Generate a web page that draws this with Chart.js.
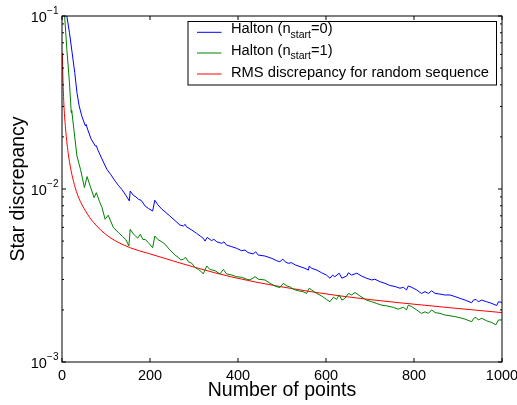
<!DOCTYPE html>
<html>
<head>
<meta charset="utf-8">
<script src="https://cdn.jsdelivr.net/npm/chart.js@4.4.0/dist/chart.umd.min.js"></script>
<style>
  html, body { margin: 0; background: #fff; }
  canvas { display: block; }
</style>
</head>
<body>
<canvas id="chart" width="517" height="405"></canvas>
<script>
const FONT = "'Liberation Sans', Arial, Helvetica, sans-serif";

// [number of points, star discrepancy]
const halton0 = [[1,0.6],[6,0.15],[11,0.1],[17,0.08],[23,0.0614],[29,0.047],[34,0.0361],[39,0.0302],[45,0.0264],[53,0.0232],[55,0.0236],[58,0.0222],[66,0.0195],[76,0.0177],[78,0.0178],[82,0.0167],[92,0.0147],[102,0.013],[111,0.0121],[121,0.0111],[128,0.0105],[136,0.00995],[145,0.0092],[153,0.00853],[155,0.00973],[162,0.0092],[168,0.009],[174,0.00871],[180,0.0086],[189,0.00797],[197,0.0077],[206,0.00746],[211,0.00861],[218,0.0081],[227,0.00764],[234,0.00739],[245,0.00698],[257,0.00656],[268,0.00619],[276,0.00611],[280,0.00625],[283,0.00605],[295,0.00579],[306,0.00554],[314,0.00535],[321,0.00519],[325,0.005],[330,0.00525],[340,0.00503],[345,0.00512],[352,0.00495],[363,0.00485],[368,0.00495],[374,0.00474],[386,0.00464],[397,0.00454],[408,0.0044],[416,0.00444],[423,0.00429],[435,0.00421],[440,0.00434],[446,0.00415],[461,0.0041],[477,0.00397],[488,0.00385],[495,0.0038],[502,0.00393],[507,0.0038],[514,0.00372],[522,0.00375],[530,0.00364],[541,0.00356],[552,0.00348],[560,0.0034],[562,0.00359],[567,0.00348],[579,0.0034],[590,0.00328],[601,0.00318],[609,0.00305],[615,0.00318],[620,0.00311],[630,0.00326],[636,0.00305],[647,0.00314],[651,0.00328],[658,0.00318],[670,0.00326],[681,0.00314],[692,0.00305],[704,0.00298],[711,0.00301],[723,0.00291],[734,0.00285],[745,0.00277],[757,0.00273],[768,0.00267],[776,0.0027],[783,0.00261],[787,0.00275],[795,0.0027],[806,0.00261],[817,0.00249],[825,0.00255],[833,0.00249],[840,0.00258],[848,0.00249],[859,0.00247],[870,0.00244],[882,0.00244],[893,0.00239],[905,0.00233],[916,0.00228],[931,0.0022],[935,0.00228],[941,0.0023],[946,0.00223],[954,0.00228],[965,0.00223],[977,0.00218],[988,0.00212],[992,0.00223],[1000,0.00221]];

const halton1 = [[1,0.4],[3,0.17],[6,0.1],[11,0.0642],[17,0.0411],[21,0.0276],[22,0.0285],[27,0.0221],[34,0.0155],[42,0.013],[51,0.0102],[57,0.0118],[64,0.0104],[73,0.00891],[78,0.00952],[85,0.0085],[91,0.0078],[98,0.00668],[105,0.00705],[117,0.00597],[129,0.00558],[138,0.0053],[145,0.0051],[152,0.00469],[155,0.00585],[162,0.0055],[167,0.00535],[172,0.0052],[178,0.00547],[184,0.0051],[189,0.00512],[196,0.0049],[206,0.00458],[211,0.00535],[218,0.0051],[227,0.00495],[234,0.0048],[245,0.00445],[257,0.00415],[264,0.00403],[270,0.00389],[276,0.00393],[281,0.00403],[287,0.0038],[295,0.00372],[302,0.00352],[310,0.00343],[317,0.00332],[321,0.00323],[329,0.00359],[336,0.00343],[348,0.00337],[359,0.00323],[367,0.00343],[374,0.00323],[386,0.00318],[397,0.00311],[408,0.00309],[420,0.00301],[427,0.00298],[439,0.00311],[446,0.00301],[461,0.00298],[473,0.00285],[484,0.00275],[495,0.00269],[503,0.00285],[511,0.00275],[518,0.00272],[526,0.00263],[537,0.00258],[548,0.00255],[556,0.00249],[562,0.00267],[567,0.00261],[579,0.00249],[590,0.00241],[601,0.0023],[609,0.00223],[617,0.00237],[624,0.0023],[630,0.00244],[636,0.00228],[643,0.00233],[651,0.00249],[658,0.00244],[666,0.00252],[677,0.00241],[692,0.00228],[704,0.00223],[715,0.00218],[727,0.00213],[738,0.00211],[753,0.00207],[764,0.00202],[768,0.00204],[776,0.00207],[783,0.002],[787,0.00213],[795,0.00209],[806,0.002],[817,0.00191],[825,0.00195],[833,0.00191],[840,0.002],[848,0.00193],[859,0.00191],[870,0.00187],[882,0.00185],[893,0.00183],[905,0.0018],[916,0.00177],[931,0.00171],[936,0.00179],[941,0.00181],[946,0.00175],[954,0.00179],[965,0.00173],[977,0.00169],[986,0.00164],[992,0.00175],[1000,0.00175]];

const rmsRandom = [[1,0.061],[2,0.045],[4,0.032],[8,0.0225],[15,0.0155],[30,0.0102],[53,0.0075],[91,0.0057],[136,0.0048],[216,0.0041],[310,0.00348],[386,0.0031],[495,0.00273],[632,0.00241],[767,0.0022],[1000,0.00193]];

// legend names split as [text, subscript, text]
const seriesNames = [
  ['Halton (n', 'start', '=0)'],
  ['Halton (n', 'start', '=1)'],
  ['RMS discrepancy for random sequence', '', '']
];
const seriesColors = ['#0000ff', '#008000', '#ff0000'];

const xTicks = [0, 200, 400, 600, 800, 1000];
const yDecades = [-3, -2, -1];

const toXY = arr => arr.map(p => ({ x: p[0], y: p[1] }));
const isDecade = v => Math.abs(Math.log10(v) - Math.round(Math.log10(v))) < 1e-9;

// inner tick marks, frame, superscript y labels and legend
const matplotlibLook = {
  id: 'matplotlibLook',
  beforeDraw(chart) {
    const ctx = chart.ctx;
    ctx.save();
    ctx.fillStyle = '#fff';
    ctx.fillRect(0, 0, chart.width, chart.height);
    ctx.restore();
  },
  afterDraw(chart) {
    const { ctx, chartArea: a, scales: { x, y } } = chart;
    ctx.save();
    ctx.strokeStyle = '#000';
    ctx.lineWidth = 1;
    ctx.beginPath();
    x.ticks.forEach(t => {
      const px = x.getPixelForValue(t.value);
      ctx.moveTo(px, a.bottom); ctx.lineTo(px, a.bottom - 4);
      ctx.moveTo(px, a.top); ctx.lineTo(px, a.top + 4);
    });
    y.ticks.forEach(t => {
      const py = y.getPixelForValue(t.value);
      const len = isDecade(t.value) ? 4 : 2;
      ctx.moveTo(a.left, py); ctx.lineTo(a.left + len, py);
      ctx.moveTo(a.right, py); ctx.lineTo(a.right - len, py);
    });
    ctx.stroke();
    ctx.strokeRect(a.left, a.top, a.right - a.left, a.bottom - a.top);

    // y tick labels 10^n
    ctx.fillStyle = '#000';
    ctx.textBaseline = 'alphabetic';
    yDecades.forEach(d => {
      const py = y.getPixelForValue(Math.pow(10, d));
      const exp = '\u2212' + Math.abs(d);
      ctx.font = '10px ' + FONT;
      const ew = ctx.measureText(exp).width;
      const right = a.left - 3.5;
      ctx.textAlign = 'left';
      ctx.fillText(exp, right - ew, py - 2.5);
      ctx.font = '14.5px ' + FONT;
      ctx.textAlign = 'right';
      ctx.fillText('10', right - ew - 0.3, py + 5.7);
    });

    // legend
    const bx = a.right - 314, by = a.top + 5.5, bw = 308.5, bh = 63.5;
    ctx.fillStyle = '#fff';
    ctx.fillRect(bx, by, bw, bh);
    ctx.strokeRect(bx, by, bw, bh);
    const lineY = [10.8, 31.5, 52.5];
    const textY = [11.5, 33.2, 55.8];
    seriesNames.forEach((parts, i) => {
      ctx.strokeStyle = seriesColors[i];
      ctx.beginPath();
      ctx.moveTo(bx + 9, by + lineY[i]);
      ctx.lineTo(bx + 33.5, by + lineY[i]);
      ctx.stroke();
      ctx.fillStyle = '#000';
      ctx.textAlign = 'left';
      let tx = bx + 43;
      const base = by + textY[i];
      ctx.font = '14.7px ' + FONT;
      ctx.fillText(parts[0], tx, base);
      tx += ctx.measureText(parts[0]).width;
      if (parts[1]) {
        ctx.font = '10.5px ' + FONT;
        ctx.fillText(parts[1], tx, base + 4.5);
        tx += ctx.measureText(parts[1]).width;
      }
      if (parts[2]) {
        ctx.font = '14.7px ' + FONT;
        ctx.fillText(parts[2], tx, base);
      }
    });
    ctx.restore();
  }
};

Chart.defaults.font.family = FONT;
Chart.defaults.color = '#000';

const series = [halton0, halton1, rmsRandom];

new Chart(document.getElementById('chart'), {
  type: 'scatter',
  data: {
    datasets: series.map((s, i) => ({
      label: seriesNames[i].join(''),
      data: toXY(s),
      showLine: true,
      borderColor: seriesColors[i],
      backgroundColor: seriesColors[i],
      borderWidth: 1,
      pointRadius: 0,
      tension: i === 2 ? 0.4 : 0,
      cubicInterpolationMode: i === 2 ? 'monotone' : 'default'
    }))
  },
  options: {
    responsive: false,
    animation: false,
    events: [],
    layout: { padding: { top: 16, right: 0, left: 0, bottom: 0 } },
    plugins: { legend: { display: false }, tooltip: { enabled: false } },
    scales: {
      x: {
        type: 'linear',
        min: 0,
        max: 1000,
        grid: { display: false, drawTicks: false },
        border: { display: false },
        afterBuildTicks: s => { s.ticks = xTicks.map(v => ({ value: v })); },
        afterFit: s => { s.height = 43; s.paddingLeft = 0; s.paddingRight = 15; },
        ticks: { padding: 5, autoSkip: false, maxRotation: 0, font: { size: 14.5 }, callback: v => String(v) },
        title: { display: true, text: 'Number of points', font: { size: 19.5 }, padding: { top: 0, bottom: 3 } }
      },
      y: {
        type: 'logarithmic',
        min: Math.pow(10, yDecades[0]),
        max: Math.pow(10, yDecades[yDecades.length - 1]),
        grid: { display: false, drawTicks: false },
        border: { display: false },
        afterBuildTicks: s => {
          const t = [];
          for (let i = 0; i < yDecades.length - 1; i++) {
            for (let m = 1; m <= 9; m++) t.push({ value: m * Math.pow(10, yDecades[i]) });
          }
          t.push({ value: Math.pow(10, yDecades[yDecades.length - 1]) });
          s.ticks = t;
        },
        afterFit: s => { s.width = 62; s.paddingTop = 0; s.paddingBottom = 0; },
        ticks: { display: false, autoSkip: false },
        title: { display: true, text: 'Star discrepancy', font: { size: 19.5 }, padding: { top: 7, bottom: 0 } }
      }
    }
  },
  plugins: [matplotlibLook]
});
</script>
</body>
</html>
